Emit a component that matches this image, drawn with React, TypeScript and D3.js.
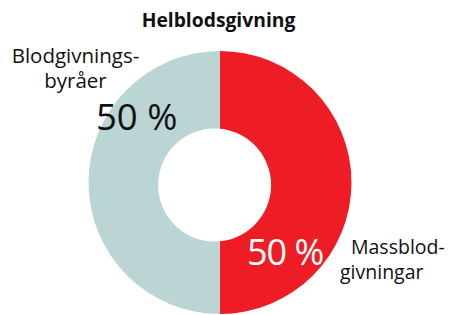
import React from "react";
import * as d3 from "d3";

const categories = ["Massblodgivningar", "Blodgivningsbyråer"];
const values = [50, 50];
const colors = ["#ee1d25", "#bad5d4"];
const title = "Helblodsgivning";
const labelLinesLeft = ["Blodgivnings-", "byråer"];
const labelLinesRight = ["Massblod-", "givningar"];
const pctLabels = values.map((v) => `${v} %`);

const W = 453;
const H = 315;
const FONT = "'Open Sans', 'Noto Sans', sans-serif";

export default function App() {
  const cx = 220;
  const cy = 182.5;
  const r = 131.5;
  const pie = d3.pie<number>().sort(null).value((d) => d);
  const arcs = pie(values);
  const arc = d3.arc<d3.PieArcDatum<number>>().innerRadius(0).outerRadius(r);
  return (
    <svg width={W} height={H} style={{ position: "absolute", left: 0, top: 0, display: "block" }}>
      <rect width={W} height={H} fill="#fff" />
      <g transform={`translate(${cx},${cy})`}>
        {arcs.map((a, i) => (
          <path key={categories[i]} d={arc(a) || ""} fill={colors[i]} />
        ))}
      </g>
      <circle cx={214.6} cy={185} r={56.5} fill="#fff" />
      <text x={218.5} y={27} textAnchor="middle" fontFamily={FONT} fontWeight={700} fontSize={19.3} fill="#111">
        {title}
      </text>
      {labelLinesLeft.map((t, i) => (
        <text key={t} x={75.5} y={62.5 + i * 25.5} textAnchor="middle" fontFamily={FONT} fontSize={20.5} fill="#111">
          {t}
        </text>
      ))}
      <text x={96} y={129.5} fontFamily={FONT} fontSize={36.5} fill="#111">
        {pctLabels[1]}
      </text>
      <text x={247} y={265} fontFamily={FONT} fontSize={36} fill="#fff" letterSpacing={-1}>
        {pctLabels[0]}
      </text>
      {labelLinesRight.map((t, i) => (
        <text key={t} x={i === 0 ? 351 : 340} y={253.5 + i * 25} fontFamily={FONT} fontSize={19.5} fill="#111">
          {t}
        </text>
      ))}
    </svg>
  );
}
